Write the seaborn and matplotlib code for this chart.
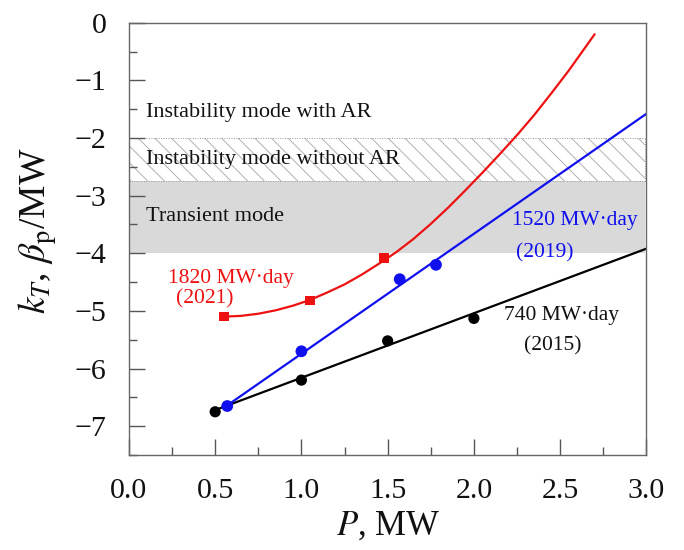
import numpy as np
import pandas as pd
import matplotlib
matplotlib.use("Agg")
import matplotlib.pyplot as plt
import seaborn as sns
from matplotlib.ticker import MultipleLocator

# ---- data ----
p_2015 = [0.50, 1.00, 1.50, 2.00]
k_2015 = [-6.75, -6.20, -5.52, -5.13]
fit_x_2015 = [0.50, 3.00]
fit_y_2015 = [-6.72, -3.92]

p_2019 = [0.57, 1.00, 1.57, 1.78]
k_2019 = [-6.65, -5.70, -4.45, -4.20]
fit_x_2019 = [0.55, 3.00]
fit_y_2019 = [-6.68, -1.58]

p_2021 = [0.55, 1.05, 1.48]
k_2021 = [-5.10, -4.82, -4.08]
fit_x_2021 = [0.55, 0.65, 0.75, 0.85, 0.95, 1.05, 1.15, 1.25, 1.35, 1.45, 1.55,
              1.65, 1.75, 1.85, 1.95, 2.05, 2.15, 2.25, 2.35, 2.45, 2.55, 2.65, 2.70]
fit_y_2021 = [-5.10, -5.086, -5.049, -4.99, -4.91, -4.81, -4.68, -4.54, -4.37, -4.18, -3.98,
              -3.75, -3.49, -3.21, -2.91, -2.60, -2.28, -1.95, -1.60, -1.22, -0.83, -0.41, -0.20]

band_transient = (-4.0, -2.75)
band_without_ar = (-2.75, -2.0)

x_ticks = [0.0, 0.5, 1.0, 1.5, 2.0, 2.5, 3.0]
y_ticks = [0, -1, -2, -3, -4, -5, -6, -7]

sns.set_style("ticks")
plt.rcParams['font.family'] = ['Liberation Serif', 'DejaVu Serif']
plt.rcParams['mathtext.fontset'] = 'stix'
plt.rcParams['hatch.color'] = '#b0b0b0'
plt.rcParams['hatch.linewidth'] = 0.7

fig = plt.figure(figsize=(6.84, 5.5), dpi=100)
ax = fig.add_axes([0.1885, 0.1727, 0.7565, 0.786])

# bands
ax.fill_between([0, 2.99], band_transient[0], band_transient[1], color='#d9d9d9', lw=0, zorder=0)
ax.fill_between([0, 2.99], band_without_ar[0], band_without_ar[1], facecolor='none',
                edgecolor='#b0b0b0', hatch='\\\\', lw=0, zorder=0)
dotted = dict(ls=(0, (1, 1.5)), color='#999999', lw=0.7, zorder=0.5)
ax.plot([0, 2.99], [band_without_ar[1], band_without_ar[1]], **dotted)
ax.plot([0, 2.99], [band_without_ar[0], band_without_ar[0]], **dotted)
ax.plot([2.99, 2.99], [band_without_ar[0], band_without_ar[1]], **dotted)

# fitted lines
red = '#ee1111'
blue = '#1010ee'
sns.lineplot(x=fit_x_2015, y=fit_y_2015, color='black', lw=1.6, ax=ax, sort=False, zorder=2)
sns.lineplot(x=fit_x_2019, y=fit_y_2019, color=blue, lw=1.6, ax=ax, sort=False, zorder=2)
sns.lineplot(x=fit_x_2021, y=fit_y_2021, color=red, lw=1.6, ax=ax, sort=False, zorder=2)

# points
sns.scatterplot(x=p_2015, y=k_2015, color='black', s=65, marker='o', edgecolor='none', ax=ax, zorder=3)
sns.scatterplot(x=p_2019, y=k_2019, color=blue, s=72, marker='o', edgecolor='none', ax=ax, zorder=3)
sns.scatterplot(x=p_2021, y=k_2021, color=red, s=46, marker='s', edgecolor='none', ax=ax, zorder=3)

# texts
fs = 16
ax.text(0.10, -1.55, "Instability mode with AR", fontsize=fs, va='center', ha='left', color='#111111')
ax.text(0.10, -2.37, "Instability mode without AR", fontsize=fs, va='center', ha='left', color='#111111')
ax.text(0.10, -3.37, "Transient mode", fontsize=fs, va='center', ha='left', color='#111111')

fs2 = 15.5
ax.text(0.226, -4.44, "1820 MW·day", fontsize=fs2, color=red, va='center', ha='left')
ax.text(0.273, -4.79, "(2021)", fontsize=fs2, color=red, va='center', ha='left')
ax.text(2.222, -3.44, "1520 MW·day", fontsize=fs2, color=blue, va='center', ha='left')
ax.text(2.245, -4.00, "(2019)", fontsize=fs2, color=blue, va='center', ha='left')
ax.text(2.175, -5.08, "740 MW·day", fontsize=fs2, color='#111111', va='center', ha='left')
ax.text(2.290, -5.60, "(2015)", fontsize=fs2, color='#111111', va='center', ha='left')

ax.set_xlim(0, 3.0)
ax.set_ylim(-7.5, 0)
ax.set_xticks(x_ticks)
ax.set_xticklabels([f"{v:.1f}" for v in x_ticks])
ax.set_yticks(y_ticks)
ax.set_yticklabels([("\u2212" + str(abs(v))) if v < 0 else str(v) for v in y_ticks])
ax.xaxis.set_minor_locator(MultipleLocator(0.25))
ax.yaxis.set_minor_locator(MultipleLocator(0.5))
ax.tick_params(axis='both', which='major', direction='in', length=11.5, width=1, labelsize=21.5,
               color='#555555', labelcolor='#111111')
ax.tick_params(axis='both', which='minor', direction='in', length=5.8, width=1, color='#555555')
ax.tick_params(axis='x', which='major', pad=16.5)
ax.tick_params(axis='y', which='major', pad=16)
for sp in ax.spines.values():
    sp.set_visible(True)
    sp.set_color('#666666')
    sp.set_linewidth(1.0)

ax.set_xlabel(r"$P$, MW", fontsize=25, color='#111111', labelpad=4)
ax.set_ylabel(r"$k_T$, $\beta_\mathrm{p}$/MW", fontsize=27, color='#111111', labelpad=6)
ax.yaxis.set_label_coords(-0.135, 0.52)

fig.savefig("out.png", dpi=100)
